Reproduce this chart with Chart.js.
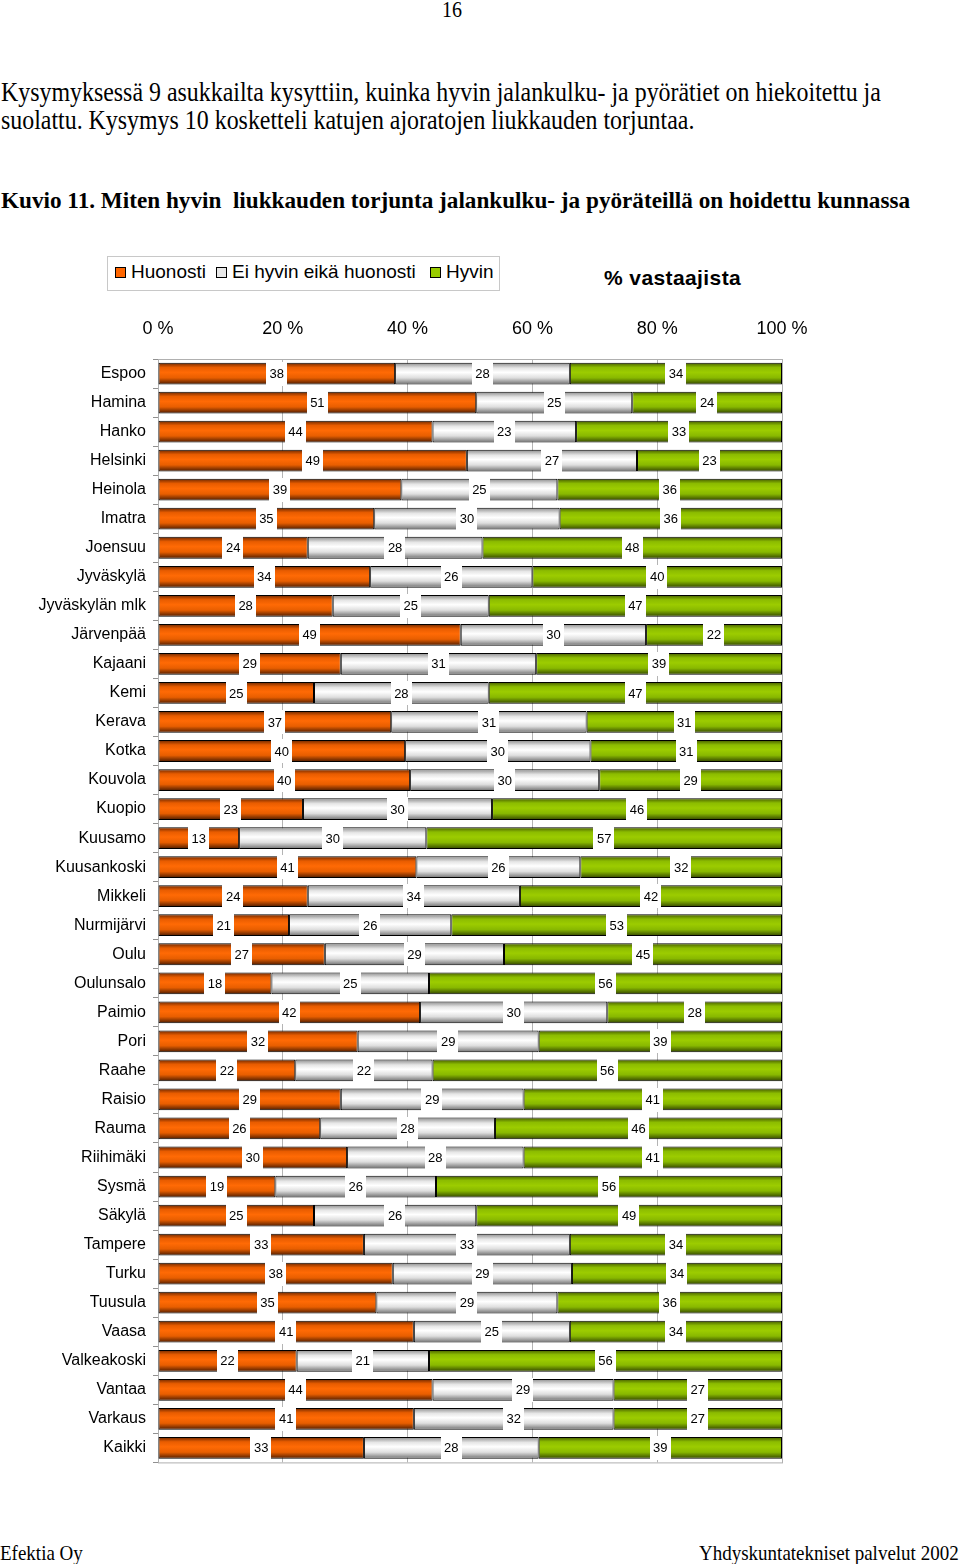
<!DOCTYPE html>
<html>
<head>
<meta charset="utf-8">
<script src="https://cdn.jsdelivr.net/npm/chart.js@4.4.1/dist/chart.umd.min.js"></script>
<style>
  html, body { margin: 0; padding: 0; background: #fff; }
  body { width: 960px; height: 1564px; position: relative; overflow: hidden; }
  .serif { font-family: "Liberation Serif", "Times New Roman", serif; color: #000; position: absolute; white-space: pre; }
  #pagenum { left: 442px; top: -4px; font-size: 20px; line-height: 24px; transform: scaleY(1.12); transform-origin: 0 0; }
  #para { left: 1px; top: 78px; font-size: 23.9px; line-height: 24.35px; transform: scaleY(1.15); transform-origin: 0 0; }
  #title { left: 1px; top: 186px; font-size: 23.2px; line-height: 28px; font-weight: bold; }
  #foot1 { left: 0px; top: 1540px; font-size: 19px; line-height: 24px; transform: scaleY(1.12); transform-origin: 0 0; }
  #foot2 { left: 699px; top: 1540px; font-size: 19px; line-height: 24px; transform: scaleY(1.12); transform-origin: 0 0; }
  #legend { position: absolute; left: 107px; top: 256px; width: 391px; height: 33px; border: 1px solid #c8c8c8;
            font-family: "Liberation Sans", Arial, sans-serif; font-size: 19px; line-height: 29px; white-space: nowrap; }
  #legend .m { display: inline-block; width: 9px; height: 9px; border: 1px solid #000; vertical-align: 0px; margin: 0 5px 0 0; }
  #legend .it { position: absolute; top: 0; }
  #vast { position: absolute; left: 604px; top: 265px; font-family: "Liberation Sans", Arial, sans-serif; font-weight: bold;
          font-size: 21px; line-height: 26px; letter-spacing: 0.4px; }
  #wrap { position: absolute; left: 0; top: 300px; width: 960px; height: 1179px; }
</style>
</head>
<body>
<div id="pagenum" class="serif">16</div>
<div id="para" class="serif">Kysymyksessä 9 asukkailta kysyttiin, kuinka hyvin jalankulku- ja pyörätiet on hiekoitettu ja
suolattu. Kysymys 10 kosketteli katujen ajoratojen liukkauden torjuntaa.</div>
<div id="title" class="serif">Kuvio 11. Miten hyvin  liukkauden torjunta jalankulku- ja pyöräteillä on hoidettu kunnassa</div>

<div id="legend">
  <span class="it" style="left:7px"><span class="m" style="background:#ff6600"></span>Huonosti</span>
  <span class="it" style="left:108px"><span class="m" style="background:#e8e8e8"></span>Ei hyvin eikä huonosti</span>
  <span class="it" style="left:322px"><span class="m" style="background:#99cc00"></span>Hyvin</span>
</div>
<div id="vast">% vastaajista</div>

<div id="wrap"><canvas id="c" width="960" height="1179"></canvas></div>

<div id="foot1" class="serif">Efektia Oy</div>
<div id="foot2" class="serif">Yhdyskuntatekniset palvelut 2002</div>

<script>
const categories = ["Espoo","Hamina","Hanko","Helsinki","Heinola","Imatra","Joensuu","Jyväskylä","Jyväskylän mlk","Järvenpää",
  "Kajaani","Kemi","Kerava","Kotka","Kouvola","Kuopio","Kuusamo","Kuusankoski","Mikkeli","Nurmijärvi",
  "Oulu","Oulunsalo","Paimio","Pori","Raahe","Raisio","Rauma","Riihimäki","Sysmä","Säkylä",
  "Tampere","Turku","Tuusula","Vaasa","Valkeakoski","Vantaa","Varkaus","Kaikki"];
const huonosti = [38,51,44,49,39,35,24,34,28,49, 29,25,37,40,40,23,13,41,24,21, 27,18,42,32,22,29,26,30,19,25, 33,38,35,41,22,44,41,33];
const eiHyvinEikaHuonosti = [28,25,23,27,25,30,28,26,25,30, 31,28,31,30,30,30,30,26,34,26, 29,25,30,29,22,29,28,28,26,26, 33,29,29,25,21,29,32,28];
const hyvin = [34,24,33,23,36,36,48,40,47,22, 39,47,31,31,29,46,57,32,42,53, 45,56,28,39,56,41,46,41,56,49, 34,34,36,34,56,27,27,39];
const tickLabels = ["0 %","20 %","40 %","60 %","80 %","100 %"];
const seriesNames = ["Huonosti","Ei hyvin eikä huonosti","Hyvin"];

const raw = [huonosti, eiHyvinEikaHuonosti, hyvin];
const totals = categories.map((_, i) => raw[0][i] + raw[1][i] + raw[2][i]);
const norm = raw.map(arr => arr.map((v, i) => v * 100 / totals[i]));

const BAR_PCT = 0.75;
const gradStops = [
  [[0, "#6a2600"], [0.22, "#e85c00"], [0.45, "#ff6a05"], [0.7, "#e85e00"], [1, "#4a1a00"]],
  [[0, "#8a8a8a"], [0.25, "#e6e6e6"], [0.45, "#ffffff"], [0.7, "#dedede"], [1, "#6e6e6e"]],
  [[0, "#445a00"], [0.22, "#8cbc00"], [0.45, "#9ccc00"], [0.7, "#88b800"], [1, "#324400"]]
];
const flat = ["#ff6600", "#e8e8e8", "#99cc00"];

function makeBg(si) {
  return function(ctx) {
    const chart = ctx.chart;
    const area = chart.chartArea;
    if (!area || ctx.dataIndex === undefined) return flat[si];
    const ys = chart.scales.y;
    const yc = ys.getPixelForValue(ctx.dataIndex);
    const half = (area.height / categories.length) * BAR_PCT / 2;
    const g = chart.ctx.createLinearGradient(0, yc - half, 0, yc + half);
    gradStops[si].forEach(s => g.addColorStop(s[0], s[1]));
    return g;
  };
}

const labelPlugin = {
  id: 'segLabels',
  afterDatasetsDraw(chart) {
    const c = chart.ctx;
    c.save();
    c.font = '13px "Liberation Sans", Arial, sans-serif';
    c.textAlign = 'center';
    c.textBaseline = 'middle';
    chart.data.datasets.forEach((ds, di) => {
      const meta = chart.getDatasetMeta(di);
      meta.data.forEach((el, i) => {
        const txt = String(raw[di][i]);
        const cx = (el.x + el.base) / 2;
        const w = c.measureText(txt).width + 7;
        const h = el.height + 2;
        c.fillStyle = '#ffffff';
        c.fillRect(Math.round(cx - w / 2), Math.round(el.y - h / 2), Math.round(w), Math.round(h));
        c.fillStyle = '#000000';
        c.fillText(txt, cx, el.y + 1);
      });
    });
    c.restore();
  }
};

const framePlugin = {
  id: 'frame',
  beforeDatasetsDraw(chart) {
    const a = chart.chartArea, c = chart.ctx;
    c.save();
    c.strokeStyle = '#b0b0b0';
    c.lineWidth = 1;
    c.strokeRect(a.left + 0.5, a.top + 0.5, a.right - a.left, a.bottom - a.top);
    c.restore();
  }
};

new Chart(document.getElementById('c'), {
  type: 'bar',
  data: {
    labels: categories,
    datasets: seriesNames.map((n, si) => ({
      label: n,
      data: norm[si],
      backgroundColor: makeBg(si),
      borderColor: '#000000',
      borderWidth: 1,
      borderSkipped: false,
      barPercentage: BAR_PCT,
      categoryPercentage: 1.0
    }))
  },
  options: {
    indexAxis: 'y',
    responsive: false,
    animation: false,
    layout: { padding: { left: 0, right: 178, top: 0, bottom: 8 } },
    plugins: { legend: { display: false }, tooltip: { enabled: false } },
    scales: {
      x: {
        position: 'top',
        stacked: true,
        min: 0, max: 100,
        ticks: {
          stepSize: 20,
          padding: 19,
          color: '#000',
          font: { family: '"Liberation Sans", Arial, sans-serif', size: 18 },
          callback: (v) => tickLabels[Math.round(v / 20)]
        },
        grid: { color: '#b4b4b4', drawTicks: false },
        border: { color: '#909090' },
        afterFit(s) { s.height = 59; }
      },
      y: {
        stacked: true,
        ticks: {
          padding: 7,
          color: '#000',
          autoSkip: false,
          font: { family: '"Liberation Sans", Arial, sans-serif', size: 16 }
        },
        grid: { drawOnChartArea: false, drawTicks: true, tickLength: 5, color: '#909090' },
        border: { color: '#808080' },
        afterFit(s) { s.width = 158; }
      }
    }
  },
  plugins: [framePlugin, labelPlugin]
});
</script>
</body>
</html>
